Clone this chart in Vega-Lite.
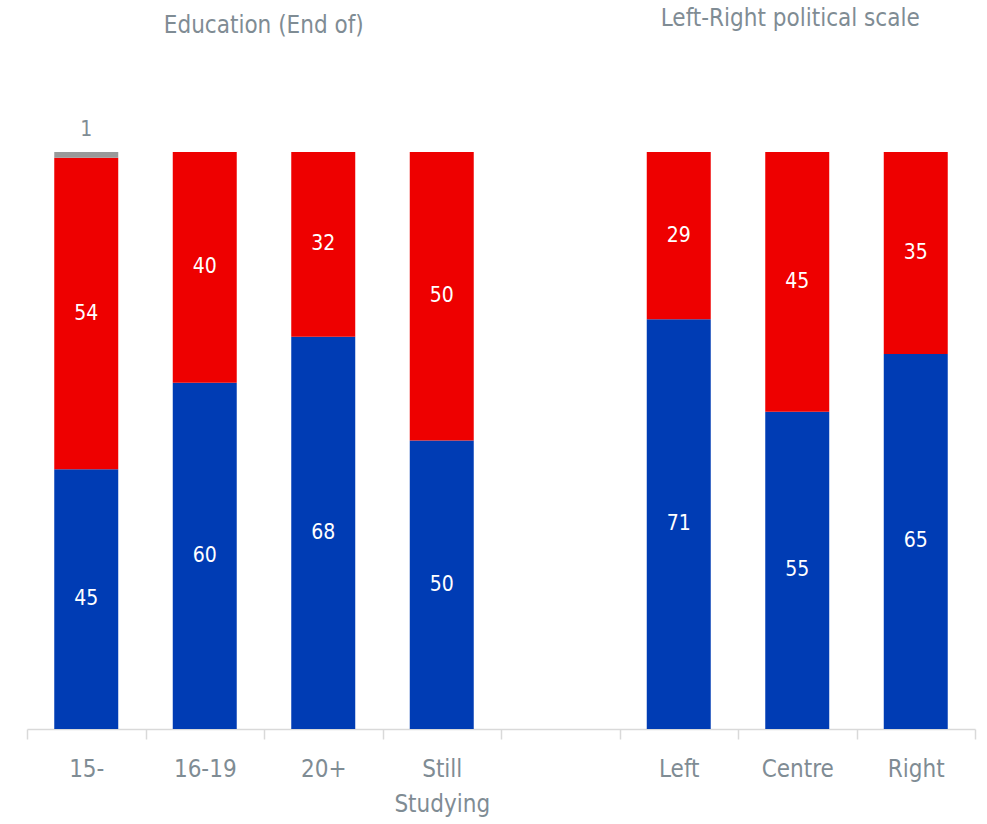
{
  "$schema": "https://vega.github.io/schema/vega-lite/v6.json",
  "width": 948,
  "height": 577,
  "autosize": "none",
  "padding": {"left": 27, "top": 152, "right": 12, "bottom": 95},
  "background": "white",
  "config": {
    "view": {"stroke": null},
    "font": "DejaVu Sans Condensed, Roboto Condensed, Roboto"
  },
  "datasets": {
    "bars": [
      {"cat": "15-", "series": "Blue", "order": 1, "value": 45},
      {"cat": "15-", "series": "Red", "order": 2, "value": 54},
      {"cat": "15-", "series": "Grey", "order": 3, "value": 1},
      {"cat": "16-19", "series": "Blue", "order": 1, "value": 60},
      {"cat": "16-19", "series": "Red", "order": 2, "value": 40},
      {"cat": "20+", "series": "Blue", "order": 1, "value": 68},
      {"cat": "20+", "series": "Red", "order": 2, "value": 32},
      {"cat": "Still Studying", "series": "Blue", "order": 1, "value": 50},
      {"cat": "Still Studying", "series": "Red", "order": 2, "value": 50},
      {"cat": "Left", "series": "Blue", "order": 1, "value": 71},
      {"cat": "Left", "series": "Red", "order": 2, "value": 29},
      {"cat": "Centre", "series": "Blue", "order": 1, "value": 55},
      {"cat": "Centre", "series": "Red", "order": 2, "value": 45},
      {"cat": "Right", "series": "Blue", "order": 1, "value": 65},
      {"cat": "Right", "series": "Red", "order": 2, "value": 35}
    ],
    "titles": [
      {"title": "Education (End of)", "cat": "16-19"},
      {"title": "Left-Right political scale", "cat": "Centre"}
    ]
  },
  "data": {"name": "bars"},
  "transform": [
    {"stack": "value", "groupby": ["cat"], "sort": [{"field": "order", "order": "ascending"}], "as": ["y0", "y1"]},
    {"calculate": "(datum.y0 + datum.y1) / 2", "as": "ymid"}
  ],
  "encoding": {
    "x": {
      "field": "cat",
      "type": "nominal",
      "sort": ["15-", "16-19", "20+", "Still Studying", "gap", "Left", "Centre", "Right"],
      "scale": {
        "domain": ["15-", "16-19", "20+", "Still Studying", "gap", "Left", "Centre", "Right"],
        "paddingInner": 0,
        "paddingOuter": 0
      },
      "axis": {
        "title": null,
        "labelAngle": 0,
        "labelFontSize": 24,
        "labelColor": "#7f8c94",
        "labelPadding": 18,
        "labelLineHeight": 35,
        "labelExpr": "datum.label == 'gap' ? '' : (datum.label == 'Still Studying' ? ['Still', 'Studying'] : datum.label)",
        "tickBand": "extent",
        "tickSize": 10,
        "tickColor": "#d9d9d9",
        "domainColor": "#d9d9d9",
        "tickWidth": 1.5,
        "domainWidth": 1.5
      }
    }
  },
  "layer": [
    {
      "mark": {"type": "bar", "width": {"band": 0.54}},
      "encoding": {
        "y": {"field": "y0", "type": "quantitative", "scale": {"domain": [0, 100]}, "axis": null},
        "y2": {"field": "y1"},
        "color": {
          "field": "series",
          "type": "nominal",
          "scale": {"domain": ["Blue", "Red", "Grey"], "range": ["#003cb4", "#ee0000", "#999999"]},
          "legend": null
        }
      }
    },
    {
      "transform": [{"filter": "datum.series != 'Grey'"}],
      "mark": {"type": "text", "color": "white", "fontSize": 21, "baseline": "middle"},
      "encoding": {
        "y": {"field": "ymid", "type": "quantitative"},
        "text": {"field": "value", "type": "quantitative"}
      }
    },
    {
      "transform": [{"filter": "datum.series == 'Grey'"}],
      "mark": {"type": "text", "color": "#7f8c94", "fontSize": 21, "baseline": "middle", "dy": -22},
      "encoding": {
        "y": {"field": "y1", "type": "quantitative"},
        "text": {"field": "value", "type": "quantitative"}
      }
    },
    {
      "data": {"name": "titles"},
      "transform": [{"filter": "datum.cat == '16-19'"}],
      "mark": {"type": "text", "color": "#7f8c94", "fontSize": 24, "baseline": "middle", "dx": 59, "dy": -126},
      "encoding": {
        "y": {"datum": 100},
        "text": {"field": "title"}
      }
    },
    {
      "data": {"name": "titles"},
      "transform": [{"filter": "datum.cat == 'Centre'"}],
      "mark": {"type": "text", "color": "#7f8c94", "fontSize": 24, "baseline": "middle", "dx": -7, "dy": -133},
      "encoding": {
        "y": {"datum": 100},
        "text": {"field": "title"}
      }
    }
  ]
}
